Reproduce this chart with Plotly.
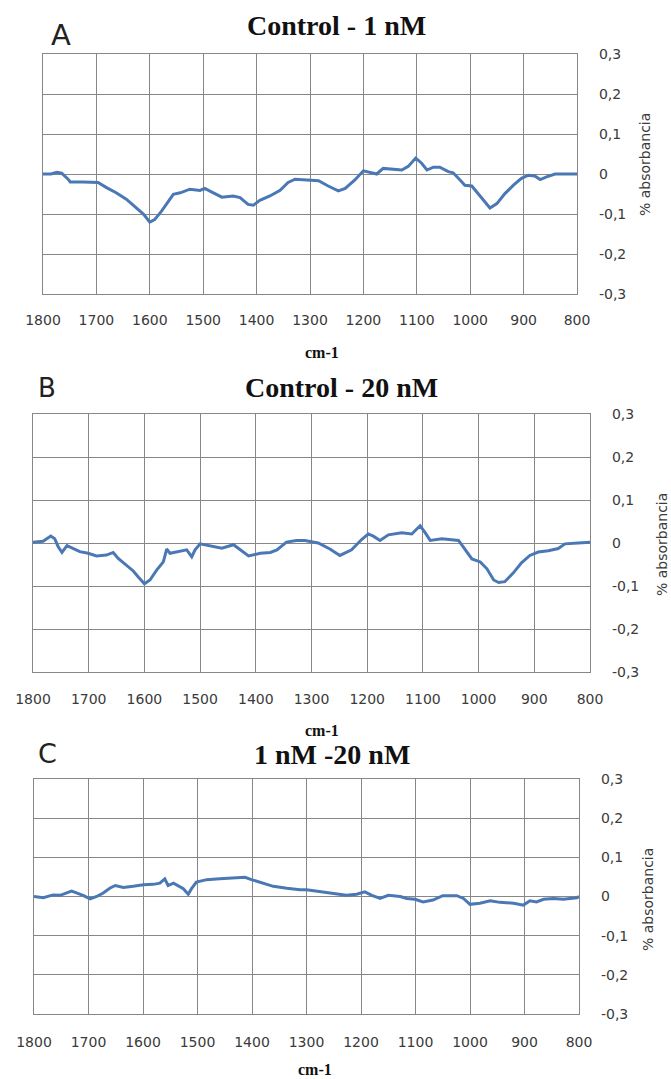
import plotly.graph_objects as go

# ---------------- data ----------------
wn_a = [1800, 1785, 1774, 1765, 1753, 1749, 1725, 1710, 1697, 1681, 1663, 1644, 1625, 1612, 1600,
        1591, 1578, 1565, 1556, 1543, 1525, 1506, 1497, 1481, 1465, 1444, 1431, 1416, 1406, 1394,
        1375, 1356, 1341, 1328, 1306, 1291, 1284, 1266, 1247, 1234, 1216, 1200, 1184, 1175, 1163,
        1141, 1128, 1116, 1102, 1091, 1081, 1069, 1057, 1041, 1032, 1019, 1010, 997, 988, 975,
        963, 950, 935, 919, 904, 891, 879, 869, 857, 841, 800]
abs_a = [0.000, 0.000, 0.004, 0.002, -0.013, -0.020, -0.020, -0.020, -0.021, -0.034, -0.047, -0.063,
         -0.085, -0.100, -0.120, -0.114, -0.093, -0.068, -0.051, -0.047, -0.038, -0.041, -0.036,
         -0.047, -0.058, -0.055, -0.059, -0.076, -0.078, -0.066, -0.055, -0.041, -0.021, -0.013,
         -0.015, -0.016, -0.017, -0.030, -0.042, -0.036, -0.015, 0.008, 0.003, 0.000, 0.014, 0.012,
         0.010, 0.019, 0.040, 0.027, 0.010, 0.017, 0.017, 0.006, 0.003, -0.015, -0.028, -0.030,
         -0.045, -0.066, -0.085, -0.074, -0.049, -0.028, -0.011, -0.003, -0.005, -0.014, -0.007,
         0.000, 0.000]

wn_b = [1800, 1782, 1768, 1761, 1755, 1748, 1739, 1728, 1716, 1701, 1686, 1668, 1656, 1647, 1632,
        1620, 1611, 1600, 1590, 1578, 1566, 1560, 1554, 1539, 1524, 1515, 1509, 1500, 1482, 1461,
        1440, 1428, 1413, 1392, 1374, 1362, 1345, 1327, 1312, 1288, 1267, 1249, 1228, 1210, 1198,
        1189, 1177, 1162, 1138, 1120, 1105, 1096, 1087, 1066, 1048, 1036, 1027, 1012, 997, 985,
        973, 964, 953, 938, 923, 908, 893, 875, 857, 845, 821, 803, 800]
abs_b = [0.002, 0.004, 0.016, 0.010, -0.008, -0.022, -0.006, -0.012, -0.020, -0.024, -0.030, -0.028,
         -0.022, -0.036, -0.052, -0.065, -0.079, -0.095, -0.086, -0.063, -0.044, -0.014, -0.024,
         -0.020, -0.016, -0.032, -0.016, -0.002, -0.006, -0.012, -0.004, -0.016, -0.030, -0.024,
         -0.022, -0.016, 0.002, 0.006, 0.006, 0.000, -0.014, -0.029, -0.016, 0.008, 0.021, 0.016,
         0.006, 0.019, 0.024, 0.021, 0.040, 0.024, 0.006, 0.010, 0.008, 0.006, -0.010, -0.037,
         -0.044, -0.060, -0.086, -0.092, -0.090, -0.070, -0.046, -0.029, -0.021, -0.018, -0.013,
         -0.002, 0.000, 0.002, 0.002]

wn_c = [1800, 1783, 1765, 1752, 1740, 1731, 1722, 1710, 1697, 1685, 1673, 1661, 1651, 1636, 1618,
        1599, 1581, 1569, 1560, 1554, 1544, 1535, 1526, 1517, 1511, 1502, 1483, 1459, 1434, 1413,
        1401, 1379, 1361, 1336, 1312, 1300, 1275, 1251, 1227, 1208, 1193, 1180, 1165, 1150, 1128,
        1116, 1101, 1086, 1068, 1050, 1024, 1012, 1000, 982, 963, 945, 920, 902, 890, 878, 865,
        847, 829, 804, 800]
abs_c = [0.000, -0.003, 0.004, 0.003, 0.009, 0.014, 0.009, 0.003, -0.006, 0.000, 0.009, 0.021, 0.028,
         0.023, 0.026, 0.030, 0.031, 0.034, 0.045, 0.028, 0.034, 0.026, 0.020, 0.006, 0.020, 0.037,
         0.043, 0.045, 0.047, 0.049, 0.043, 0.034, 0.026, 0.021, 0.017, 0.017, 0.012, 0.006, 0.003,
         0.006, 0.012, 0.003, -0.005, 0.003, 0.000, -0.005, -0.007, -0.014, -0.009, 0.002, 0.002,
         -0.005, -0.020, -0.017, -0.011, -0.015, -0.017, -0.022, -0.011, -0.014, -0.007, -0.005,
         -0.007, -0.003, 0.000]

panel_titles = ["Control - 1 nM", "Control - 20 nM", "1 nM -20 nM"]
panel_letters = ["A", "B", "C"]
x_ticks = [1800, 1700, 1600, 1500, 1400, 1300, 1200, 1100, 1000, 900, 800]
y_ticks = [0.3, 0.2, 0.1, 0, -0.1, -0.2, -0.3]
y_ticktext = ["0,3", "0,2", "0,1", "0", "-0,1", "-0,2", "-0,3"]
x_title = "cm-1"
y_title = "% absorbancia"

# ---------------- layout helpers ----------------
W, H = 671, 1079
def px(x):
    return x / W
def py(y):
    return 1 - y / H

# plot area boxes in pixels: (left, top, right, bottom)
boxes = [(43, 54, 577, 294), (33, 414, 590, 672), (34, 779, 579, 1014)]
xticklen = [13, 14, 15]
LINE = "#4a78b5"
GRID = "#878787"
TICKFONT = dict(family="DejaVu Sans", size=14, color="#3a3a3a")

fig = go.Figure()
series = [(wn_a, abs_a), (wn_b, abs_b), (wn_c, abs_c)]
for i, (xs, ys) in enumerate(series):
    k = "" if i == 0 else str(i + 1)
    fig.add_trace(go.Scatter(x=xs, y=ys, mode="lines", xaxis="x" + k, yaxis="y" + k,
                             line=dict(color=LINE, width=3), showlegend=False))

layout = dict(width=W, height=H, margin=dict(l=0, r=0, t=0, b=0, pad=0, autoexpand=False),
              autosize=False, paper_bgcolor="white", plot_bgcolor="white", showlegend=False)
for i, (l, t, r, b) in enumerate(boxes):
    k = "" if i == 0 else str(i + 1)
    layout["xaxis" + k] = dict(domain=[px(l), px(r)], anchor="y" + k, range=[1800, 800],
                               tickvals=x_ticks, ticktext=[str(v) for v in x_ticks],
                               showgrid=True, gridcolor=GRID, gridwidth=1.3,
                               showline=True, linecolor=GRID, linewidth=1.3, mirror=True,
                               ticks="outside", ticklen=xticklen[i], tickcolor="rgba(0,0,0,0)",
                               tickfont=TICKFONT, zeroline=False, fixedrange=True,
                               automargin=False)
    layout["yaxis" + k] = dict(domain=[py(b), py(t)], anchor="x" + k, range=[-0.3, 0.3],
                               side="right", tickvals=y_ticks, ticktext=y_ticktext,
                               showgrid=True, gridcolor=GRID, gridwidth=1.3,
                               showline=True, linecolor=GRID, linewidth=1.3, mirror=True,
                               ticks="outside", ticklen=18, tickcolor="rgba(0,0,0,0)",
                               tickfont=TICKFONT, zeroline=False, fixedrange=True,
                               automargin=False)
fig.update_layout(**layout)

ann = []
title_pos = [(336, 26), (341, 388), (332, 754)]
letter_pos = [(61, 35), (47, 388), (47, 753)]
letter_size = [29, 26, 27]
xtitle_pos = [(322, 352), (322, 730), (315, 1069)]
ytitle_pos = [(645, 165), (662, 545), (648, 900)]
for i in range(3):
    ann.append(dict(x=px(title_pos[i][0]), y=py(title_pos[i][1]), xref="paper", yref="paper",
                    text="<b>" + panel_titles[i] + "</b>", showarrow=False,
                    xanchor="center", yanchor="middle",
                    font=dict(family="Liberation Serif", size=28, color="#111111")))
    ann.append(dict(x=px(letter_pos[i][0]), y=py(letter_pos[i][1]), xref="paper", yref="paper",
                    text=panel_letters[i], showarrow=False, xanchor="center", yanchor="middle",
                    font=dict(family="DejaVu Sans", size=letter_size[i], color="#222222")))
    ann.append(dict(x=px(xtitle_pos[i][0]), y=py(xtitle_pos[i][1]), xref="paper", yref="paper",
                    text="<b>" + x_title + "</b>", showarrow=False, xanchor="center", yanchor="middle",
                    font=dict(family="Liberation Serif", size=16, color="#111111")))
    ann.append(dict(x=px(ytitle_pos[i][0]), y=py(ytitle_pos[i][1]), xref="paper", yref="paper",
                    text=y_title, showarrow=False, xanchor="center", yanchor="middle", textangle=-90,
                    font=dict(family="DejaVu Sans", size=14, color="#3a3a3a")))
fig.update_layout(annotations=ann)

fig.write_html("out.html")
